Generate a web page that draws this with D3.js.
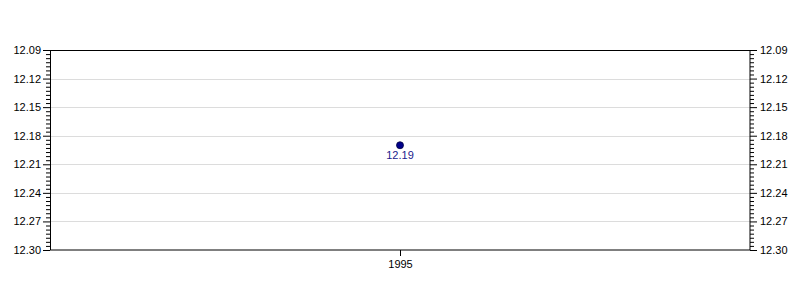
<!DOCTYPE html>
<html>
<head>
<meta charset="utf-8">
<script src="https://cdn.jsdelivr.net/npm/d3@7"></script>
<style>
  body { margin: 0; background: #fff; }
  text { font-family: "Liberation Sans", Arial, sans-serif; }
</style>
</head>
<body>
<div id="chart"></div>
<script>
// data
var years = ["1995"];
var values = [12.19];
var yTicks = [12.09, 12.12, 12.15, 12.18, 12.21, 12.24, 12.27, 12.30];

var margin = {top: 50, right: 50, bottom: 50, left: 50},
    width = 800 - margin.left - margin.right,
    height = 300 - margin.top - margin.bottom;

var svg = d3.select("#chart")
    .append("svg")
    .attr("width", 800)
    .attr("height", 300)
    .append("g")
    .attr("transform", "translate(" + margin.left + "," + margin.top + ")");

var x = d3.scalePoint()
    .domain(years)
    .range([0, width])
    .padding(0.5);

// inverted y: small values on top
var y = d3.scaleLinear()
    .domain([12.09, 12.30])
    .range([0, height]);

// minor ticks, 6 between each pair of majors
var minor = [];
for (var i = 0; i < yTicks.length - 1; i++) {
    var step = (yTicks[i + 1] - yTicks[i]) / 7;
    for (var k = 1; k < 7; k++) minor.push(yTicks[i] + step * k);
}

// grid
svg.append("g")
    .selectAll("line")
    .data(yTicks.slice(1, -1))
    .enter()
    .append("line")
    .attr("x1", 0)
    .attr("x2", width)
    .attr("y1", function(d) { return Math.round(y(d)) + 0.5; })
    .attr("y2", function(d) { return Math.round(y(d)) + 0.5; })
    .attr("stroke", "#dcdcdc")
    .attr("stroke-width", 1);

function styleAxis(g) {
    g.select(".domain").remove();
    g.selectAll("line").attr("stroke", "#000");
    g.selectAll("text").attr("fill", "#000").style("font-size", "11px");
}

// left axis
svg.append("g")
    .call(d3.axisLeft(y).tickValues(minor).tickSize(4).tickFormat(""))
    .call(styleAxis);
svg.append("g")
    .call(d3.axisLeft(y).tickValues(yTicks).tickSize(7).tickPadding(2).tickFormat(d3.format(".2f")))
    .call(styleAxis);

// right axis
svg.append("g")
    .attr("transform", "translate(" + width + ",0)")
    .call(d3.axisRight(y).tickValues(minor).tickSize(4).tickFormat(""))
    .call(styleAxis);
svg.append("g")
    .attr("transform", "translate(" + width + ",0)")
    .call(d3.axisRight(y).tickValues(yTicks).tickSize(7).tickPadding(3).tickFormat(d3.format(".2f")))
    .call(styleAxis);

// bottom axis
svg.append("g")
    .attr("transform", "translate(0," + height + ")")
    .call(d3.axisBottom(x).tickSize(6).tickPadding(4))
    .call(styleAxis);

// frame
svg.append("rect")
    .attr("x", 0.5)
    .attr("y", 0.5)
    .attr("width", width - 0.5)
    .attr("height", height - 0.5)
    .attr("fill", "none")
    .attr("stroke", "#000");

// points
var pts = years.map(function(d, i) { return {year: d, value: values[i]}; });

svg.append("g")
    .selectAll("circle")
    .data(pts)
    .enter()
    .append("circle")
    .attr("cx", function(d) { return x(d.year); })
    .attr("cy", function(d) { return y(d.value); })
    .attr("r", 3.5)
    .attr("fill", "#00008b")
    .attr("stroke", "#000040")
    .attr("stroke-width", 0.8);

svg.append("g")
    .selectAll("text")
    .data(pts)
    .enter()
    .append("text")
    .attr("x", function(d) { return x(d.year); })
    .attr("y", function(d) { return y(d.value) + 14; })
    .attr("text-anchor", "middle")
    .attr("fill", "#1a1a8c")
    .style("font-size", "11px")
    .text(function(d) { return d3.format(".2f")(d.value); });
</script>
</body>
</html>
